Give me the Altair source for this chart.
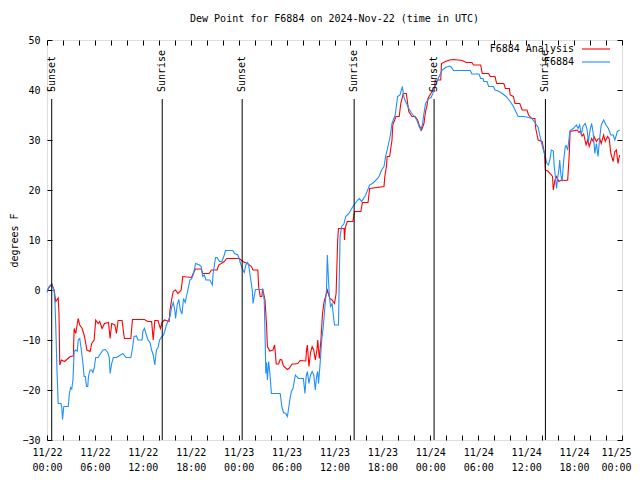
import altair as alt
import pandas as pd

# ---------------- data ----------------
BASE = pd.Timestamp("2024-11-22T00:00:00Z")

chart_title = "Dew Point for F6884 on 2024-Nov-22 (time in UTC)"
series_names = ["F6884 Analysis", "F6884"]
series_colors = ["#ff0000", "#1e90ff"]

# hours after 2024-11-22 00:00 UTC, dew point in degrees F
analysis_hours = [
    0.0, 0.6, 0.9, 1.1, 1.4, 1.5, 1.6, 1.8, 2.2, 2.9, 3.3, 3.4, 3.6, 3.9, 4.1, 4.4,
    4.7, 5.0, 5.4, 5.6, 5.9, 6.1, 6.4, 6.6, 6.9, 7.2, 7.7, 7.9, 8.1, 8.5, 8.7, 8.9,
    9.4, 9.6, 9.7, 10.5, 10.7, 12.2, 12.6, 13.1, 13.3, 13.5, 13.9, 14.2, 14.4, 14.7,
    15.3, 15.4, 15.6, 15.8, 16.1, 16.4, 16.8, 17.0, 18.1, 18.3, 18.6, 19.3, 19.5,
    20.3, 20.6, 21.3, 21.5, 22.2, 22.5, 23.7, 24.1, 24.5, 25.1, 25.6, 25.8, 26.4,
    26.5, 26.7, 26.9, 27.0, 27.3, 27.5, 27.6, 27.9, 28.3, 28.5, 28.6, 28.7, 29.0,
    29.2, 29.4, 29.6, 30.1, 30.3, 30.7, 31.0, 31.4, 31.7, 32.4, 32.5, 32.6, 32.8,
    33.0, 33.2, 33.4, 33.6, 33.8, 33.9, 34.1, 34.3, 34.5, 34.7, 34.9, 35.1, 35.4,
    35.7, 36.0, 36.2, 36.3, 36.4, 36.5, 37.2, 37.25, 37.35, 37.6, 38.3, 38.5, 39.3,
    39.5, 40.2, 40.4, 42.2, 42.3, 42.5, 42.6, 42.9, 43.2, 43.3, 43.7, 44.1, 44.3,
    44.6, 45.0, 45.1, 45.3, 45.7, 46.1, 46.4, 46.6, 46.9, 47.2, 47.4, 47.6, 47.7,
    48.2, 48.5, 48.6, 49.3, 49.4, 49.9, 50.4, 50.9, 52.0, 52.5, 53.2, 53.4, 54.3,
    54.5, 55.3, 55.5, 56.1, 56.3, 57.2, 57.4, 57.9, 58.0, 58.4, 58.6, 59.2, 59.5,
    60.1, 60.3, 60.7, 61.1, 61.2, 61.5, 62.0, 62.3, 62.4, 62.7, 63.0, 63.3, 63.4,
    63.6, 63.8, 64.1, 64.4, 64.9, 65.2, 65.4, 65.5, 66.1, 66.4, 66.6, 66.8, 67.0,
    67.2, 67.5, 67.7, 67.9, 68.2, 68.4, 68.5, 68.8, 69.0, 69.2, 69.4, 69.7, 69.9,
    70.2, 70.4, 70.6, 70.9, 71.1, 71.3, 71.5, 71.7,
]
analysis_values = [
    -0.1, 1.2, -0.1, -2.3, -1.6, -4.6, -15, -14, -14.3, -13.3, -13.2, -7.7, -8.7, -5.7, -7, -7.7,
    -9.3, -12, -12.3, -10.7, -10, -6, -6.7, -6.3, -7.7, -6.7, -6.5, -9.7, -6.7, -7, -8.7, -6.1,
    -6.1, -8.7, -9.7, -9.7, -5.9, -5.9, -6.3, -6.3, -10, -6.1, -6.1, -7.7, -6.5, -6,
    -6.3, -4, -2, -0.3, 0, -0.7, 0, 2.7, 2.5, 3.3, 4.2, 4.2, 3.3,
    3.3, 4, 4, 5, 5.7, 6.3, 6.3, 6.3, 5.7, 5.3, 4.7, 4, 4,
    0.7, -1.3, -1.3, 0.3, -2, -7.3, -11.3, -12.2, -12, -11, -12.7, -14.8, -14.8,
    -13.9, -14, -15.2, -15.9, -15.7, -14.8, -14.8, -14.7, -14.1, -14.2, -12, -11, -15.3,
    -12.5, -11.3, -12, -14, -12, -10, -13.7, -10, -4.7, -2.3, -1.2, 0, -1.7,
    -2, -2.7, -0.7, 4.7, 10, 12.3, 12.3, 10, 12.5, 13.7, 13.7, 15.7, 15.7,
    17.5, 17.5, 20.3, 20.7, 22.7, 24.7, 26.7, 26.7, 30, 33, 34.7, 34.7, 37.3,
    39.3, 39.3, 38, 35.7, 34.7, 34.7, 34, 33, 32, 33.3, 35.7, 37, 38.3,
    39.7, 39.7, 42, 42, 45.3, 45.7, 46, 46.1, 45.9, 45.5, 45.5, 45, 45,
    43.3, 43.3, 42.7, 42.7, 41.3, 41.3, 40.3, 40.3, 39, 38.7, 37.3, 37.3, 36,
    36, 35, 34.3, 34.3, 32.3, 30, 29.7, 27.3, 24, 23.8, 23.3, 22.7, 20,
    22, 22.7, 21.7, 22, 21.9, 22, 27.3, 31.7, 31.9, 32, 31.5, 31.8, 30.8,
    31.2, 29, 30, 28.7, 30.3, 29.7, 30.7, 29.7, 30.2, 30.3, 29.3, 31, 29.7,
    30.7, 30.2, 27.3, 25.7, 27.7, 28, 25.3, 27,
]

obs_hours = [
    0.0, 0.25, 0.5, 0.7, 0.9, 1.0, 1.1, 1.25, 1.4, 1.75, 1.85, 1.95, 2.1, 2.66, 2.8,
    2.96, 3.1, 3.25, 3.4, 3.6, 3.8, 3.9, 4.1, 4.3, 4.5, 4.65, 4.8, 4.95, 5.1, 5.2,
    5.4, 5.6, 5.75, 5.9, 6.1, 6.4, 6.6, 7.0, 7.3, 7.6, 7.8, 7.9, 8.1, 8.3, 8.7, 9.0,
    9.5, 9.9, 10.5, 10.7, 10.9, 11.2, 11.4, 11.9, 12.0, 12.2, 12.45, 12.65, 12.9,
    13.1, 13.3, 13.5, 13.7, 13.9, 14.1, 14.3, 14.6, 14.9, 15.2, 15.4, 15.6, 15.8,
    16.0, 16.1, 16.3, 16.5, 16.7, 16.9, 17.1, 17.3, 17.6, 17.9, 18.1, 18.35, 18.6,
    19.1, 19.3, 19.5, 19.7, 19.9, 20.4, 20.7, 20.8, 21.1, 21.3, 21.6, 21.9, 22.2,
    22.35, 23.25, 23.5, 23.9, 24.1, 24.3, 24.5, 24.7, 24.9, 25.1, 25.25, 25.4, 25.7,
    25.8, 26.1, 27.0, 27.2, 27.3, 27.4, 27.5, 27.6, 27.75, 27.9, 28.1, 29.2, 29.4,
    29.6, 29.9, 30.1, 30.2, 30.4, 30.6, 30.8, 31.1, 31.25, 31.5, 32.1, 32.3, 32.45,
    32.6, 32.8, 33.0, 33.2, 33.4, 33.6, 33.75, 33.9, 34.0, 34.2, 34.4, 34.6, 34.8,
    35.0, 35.1, 35.25, 35.35, 35.5, 35.7, 35.85, 36.0, 36.5, 36.6, 36.7, 36.9, 37.2,
    37.4, 37.8, 38.3, 38.9, 39.1, 39.4, 39.9, 40.4, 40.9, 41.4, 41.6, 41.9, 42.2,
    42.4, 42.7, 43.0, 43.2, 43.6, 43.9, 44.2, 44.5, 44.7, 44.9, 45.3, 45.6, 46.1,
    46.3, 46.6, 46.8, 47.0, 47.2, 47.4, 47.8, 48.1, 48.3, 48.6, 49.1, 49.5, 49.9,
    50.4, 50.6, 50.9, 53.0, 53.2, 54.1, 54.3, 54.6, 54.7, 55.1, 55.3, 55.9, 56.1,
    56.5, 57.0, 57.5, 58.0, 58.4, 58.7, 59.0, 59.7, 60.3, 60.7, 61.0, 61.3, 61.5,
    61.7, 61.95, 62.2, 62.4, 62.6, 62.8, 63.0, 63.15, 63.4, 63.5, 63.7, 63.8, 63.95,
    64.1, 64.2, 64.35, 64.5, 64.7, 64.9, 65.0, 65.2, 65.4, 65.5, 65.9, 66.3, 66.5,
    66.7, 66.9, 67.1, 67.4, 67.6, 67.8, 68.0, 68.2, 68.4, 68.6, 68.8, 69.0, 69.2,
    69.4, 69.7, 70.0, 70.3, 70.6, 70.9, 71.1, 71.3, 71.4, 71.7,
]
obs_values = [
    -0.5, 0.7, 1, 0.8, -0.3, -2.7, -7.3, -16, -22.7, -22.7, -23.5, -25.9, -23.3, -23.3, -20.7,
    -19.5, -19.8, -18, -12.3, -12, -12.2, -10, -9.7, -12, -14.7, -17.3, -17.3, -19.3, -19.3, -17.2,
    -16, -16, -16.5, -15.7, -13.5, -13.5, -13, -12, -11.9, -12.5, -13.5, -16.7, -14.7, -13.5, -13.5, -13.2,
    -12.7, -13.5, -13.5, -11.7, -9.3, -9.2, -10, -10, -8.3, -7.7, -9, -10, -10.5,
    -12, -13, -15, -12, -11.5, -10, -9.5, -9, -7.3, -6, -5.3, -3.5, -2.5,
    -4, -5.7, -3, -1.9, -4, -4.8, -1.7, -2.5, -0.3, 2, 2.2, 3.3, 5.3,
    5, 4.7, 2.7, 3, 2, 2, 1, 3.3, 6.5, 6.5, 5.7, 5.7, 7,
    7.9, 7.9, 7.3, 7, 6, 5, 4.1, 3.5, 5, 5.5, 5, 3.3, 0,
    -2.7, 0.1, 0.1, -2, -8.7, -16.7, -14.5, -18, -14.3, -16.5, -20.7, -20.7, -23.3,
    -24.5, -24.7, -25.3, -24.3, -22, -20.3, -19.7, -17, -17.3, -17.7, -17.7, -20.7, -17.3,
    -16.3, -18.7, -17, -16.3, -17, -20, -17.3, -16.3, -18.7, -14.7, -10, -7.3, -3.3,
    0, 7, 2, -1, -3.3, -2.7, -5, -7, -7, 2.7, 10.7, 12.7, 13.3,
    14.7, 15.3, 16.7, 18, 18.3, 17.7, 19, 21, 21.5, 22.3, 22.8, 24, 24.7,
    26.7, 28.7, 31, 33.3, 35, 38.7, 39, 40.7, 38.5, 37.7, 36.3, 35.5, 34.5,
    34, 32.7, 32, 33, 35.3, 37.3, 38.3, 38.5, 39.3, 40.7, 42.7, 44, 44.5,
    44.8, 44.6, 43.9, 43.9, 43.2, 43.2, 42.3, 42.3, 41.7, 41.7, 40.7, 40.7, 40,
    39.8, 39.3, 38.7, 37.7, 36.7, 35.7, 34.7, 34.7, 34.5, 34.3, 33.7, 33, 32.5,
    31, 29.3, 27.7, 26.7, 25.3, 25, 26.3, 28, 27.8, 25, 22, 20.3, 22.5,
    24, 26, 23, 21.7, 26, 28.7, 28.9, 28, 30.7, 31.9, 32.3, 33, 32.3,
    33, 31, 32.7, 33.3, 32.3, 29.7, 32, 33.3, 31.3, 27.3, 29.3, 26.7, 30.3,
    33, 34, 33, 32.3, 31, 31, 30, 31, 31.7, 32,
]

sun_hours = [0.59, 14.43, 24.44, 38.46, 48.47, 62.41]
sun_events = ["Sunset", "Sunrise", "Sunset", "Sunrise", "Sunset", "Sunrise"]

x_tick_hours = list(range(0, 73, 2))
y_ticks = list(range(-30, 51, 10))
y_domain = [-30, 50]
sun_line_top = 38.2  # degrees F, where the sunrise/sunset markers stop

# ---------------- helpers ----------------
def to_iso(h):
    return (BASE + pd.Timedelta(hours=h)).strftime("%Y-%m-%dT%H:%M:%SZ")


def to_ms(h):
    return int((BASE + pd.Timedelta(hours=h)).timestamp() * 1000)


df_an = pd.DataFrame({"time": [to_iso(h) for h in analysis_hours], "value": analysis_values})
df_ob = pd.DataFrame({"time": [to_iso(h) for h in obs_hours], "value": obs_values})
df_sun = pd.DataFrame({"time": [to_iso(h) for h in sun_hours], "event": sun_events})

tick_ms = [to_ms(h) for h in x_tick_hours]
x_scale = alt.Scale(type="utc", domain=[to_ms(0), to_ms(72)], nice=False)
y_scale = alt.Scale(domain=y_domain, nice=False, zero=False)

W, H = 575, 400
FONT = "DejaVu Sans Mono"
FS = 10

label_expr = (
    "utchours(datum.value) % 6 == 0 ? "
    "[utcFormat(datum.value, '%m/%d'), utcFormat(datum.value, '%H:%M')] : ''"
)

bottom_axis = alt.Axis(
    orient="bottom", values=tick_ms, offset=-5, tickSize=5, domain=False, grid=False,
    labelExpr=label_expr, labelFont=FONT, labelFontSize=FS, labelColor="black",
    labelPadding=7, labelLineHeight=15, labelAngle=0, labelOverlap=False,
    labelFlush=False, tickColor="black", title=None,
    labelOffset={"condition": {"test": f"datum.value >= {tick_ms[-1]}", "value": -6}, "value": 0},
)
top_axis = alt.Axis(
    orient="top", values=tick_ms, offset=-5, tickSize=5, domain=False, grid=False,
    labels=False, tickColor="black", title=None,
)
left_axis = alt.Axis(
    orient="left", values=y_ticks, offset=-5, tickSize=5, domain=False, grid=False,
    labelFont=FONT, labelFontSize=FS, labelColor="black", labelPadding=7,
    tickColor="black", title="degrees F", titleFont=FONT, titleFontSize=FS,
    titleFontWeight="normal", titleColor="black", titlePadding=2,
)
right_axis = alt.Axis(
    orient="right", values=y_ticks, offset=-5, tickSize=5, domain=False, grid=False,
    labels=False, tickColor="black", title=None,
)

analysis_line = alt.Chart(df_an).mark_line(
    color=series_colors[0], strokeWidth=1.1, interpolate="linear"
).encode(
    x=alt.X("time:T", scale=x_scale, axis=bottom_axis),
    y=alt.Y("value:Q", scale=y_scale, axis=left_axis),
)

obs_line = alt.Chart(df_ob).mark_line(
    color=series_colors[1], strokeWidth=1.1, interpolate="linear"
).encode(
    x=alt.X("time:T", scale=x_scale, axis=None),
    y=alt.Y("value:Q", scale=y_scale, axis=None),
)

sun_rules = alt.Chart(df_sun).transform_calculate(
    top=str(sun_line_top), bottom=str(y_domain[0])
).mark_rule(color="black", strokeWidth=1).encode(
    x=alt.X("time:T", scale=x_scale, axis=top_axis),
    y=alt.Y("top:Q", scale=y_scale, axis=right_axis),
    y2="bottom:Q",
)

sun_text = alt.Chart(df_sun).mark_text(
    angle=270, align="left", baseline="middle", font=FONT, fontSize=FS, color="black"
).encode(
    x=alt.X("time:T", scale=x_scale, axis=None),
    y=alt.value(52),
    text="event:N",
)

title_text = alt.Chart(pd.DataFrame({"label": [chart_title]})).mark_text(
    align="center", baseline="middle", font=FONT, fontSize=FS, color="black"
).encode(x=alt.value(W / 2), y=alt.value(-21), text="label:N")

legend_layers = []
for i, (name, color) in enumerate(zip(series_names, series_colors)):
    ly = 9 + 13 * i
    d = pd.DataFrame({"label": [name]})
    legend_layers.append(
        alt.Chart(d).mark_text(
            align="right", baseline="middle", font=FONT, fontSize=FS, color="black"
        ).encode(x=alt.value(527), y=alt.value(ly), text="label:N")
    )
    legend_layers.append(
        alt.Chart(d).mark_rule(color=color, strokeWidth=1.1).encode(
            x=alt.value(535), x2=alt.value(563), y=alt.value(ly)
        )
    )

chart = alt.layer(
    analysis_line, obs_line, sun_rules, sun_text, title_text, *legend_layers
).resolve_axis(
    x="independent", y="independent"
).properties(
    width=W,
    height=H,
    autosize=alt.AutoSizeParams(type="none"),
    padding={"left": 39, "top": 32, "right": 10, "bottom": 32},
).configure_view(
    stroke="black", strokeWidth=1
).configure(background="white")

chart.save("out.html", embed_options={"renderer": "svg", "actions": False})
